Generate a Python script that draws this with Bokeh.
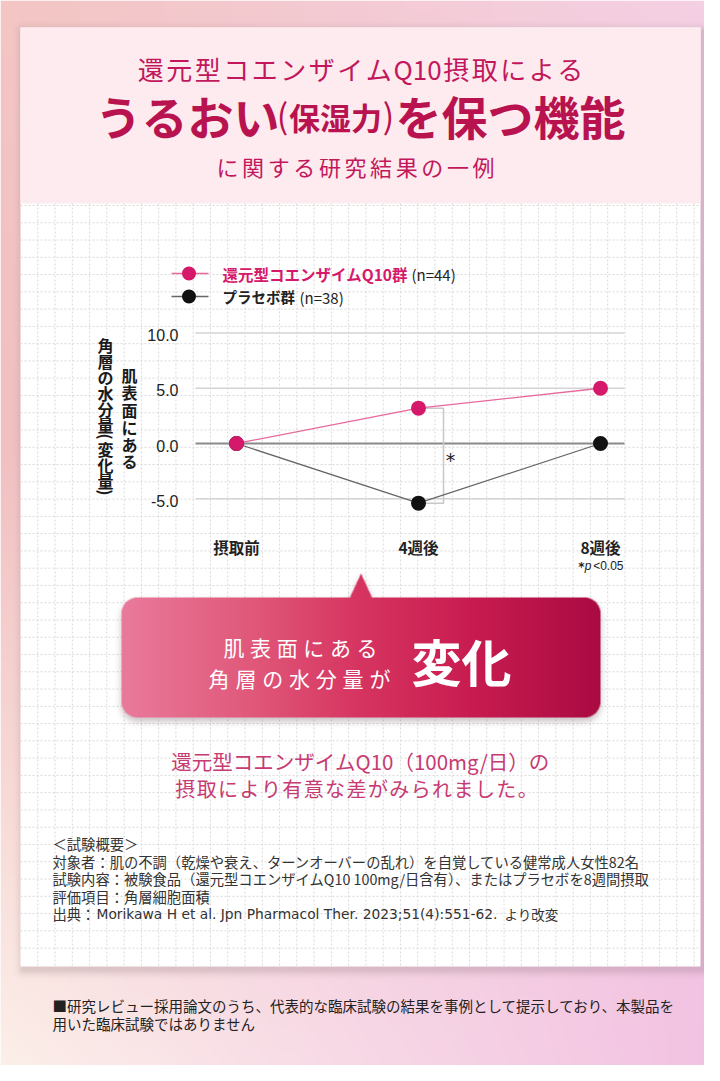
import numpy as np
from bokeh.plotting import figure
from bokeh.models import Range1d
from bokeh.core.properties import value
from bokeh.embed import file_html
from bokeh.resources import INLINE

# ---------------- data ----------------
categories = ["摂取前", "4週後", "8週後"]
q10_values = [0.0, 3.2, 5.0]
placebo_values = [0.0, -5.4, 0.0]
y_ticks = [10.0, 5.0, 0.0, -5.0]
y_tick_labels = ["10.0", "5.0", "0.0", "-5.0"]
series_names = ["還元型コエンザイムQ10群", "プラセボ群"]
series_n = ["(n=44)", "(n=38)"]

PINK = "#d6186a"
PINK_LINE = "#e8679c"
DARK = "#111111"
GRAY_LINE = "#666666"
FONT = "Noto Sans CJK JP"

# ---------------- page <-> data mapping ----------------
W, H = 704, 1065
X0, XS = 236.0, 182.0     # category 0 at page x=236, 182px per category
Y0, YS = 443.0, 11.05     # value 0 at page y=443, 11.05px per unit


def dx(X):
    return (X - X0) / XS


def dy(Y):
    return (Y0 - Y) / YS


p = figure(width=W, height=H, output_backend="svg", toolbar_location=None,
           x_range=Range1d(dx(0), dx(W)), y_range=Range1d(dy(H), dy(0)),
           x_axis_type=None, y_axis_type=None, min_border=0,
           outline_line_color=None)
p.background_fill_color = "white"
p.border_fill_color = "white"


def to_rgba(rgb, alpha=None):
    h, w = rgb.shape[:2]
    arr = np.empty((h, w, 4), dtype=np.uint8)
    arr[..., :3] = np.clip(np.round(rgb), 0, 255).astype(np.uint8)
    arr[..., 3] = 255 if alpha is None else np.clip(np.round(alpha * 255), 0, 255).astype(np.uint8)
    arr = np.ascontiguousarray(arr[::-1])
    return arr.view(dtype=np.uint32).reshape((h, w))


def lerp_stops(stops, t):
    pos = [s[0] for s in stops]
    return np.stack([np.interp(t, pos, [s[1][c] for s in stops]) for c in range(3)], axis=-1)


def box_blur(a, r, axis):
    k = 2 * r + 1
    pad = [(0, 0), (0, 0)]
    pad[axis] = (r + 1, r)
    c = np.cumsum(np.pad(a, pad, mode="edge"), axis=axis)
    if axis == 0:
        return (c[k:] - c[:-k]) / k
    return (c[:, k:] - c[:, :-k]) / k


# ---------------- page background (gradient + card shadow) ----------------
hb, wb = 533, 352
Xb = (np.arange(wb) + 0.5) * 2
Yb = (np.arange(hb) + 0.5) * 2
left_stops = [(0, (243, 197, 195)), (450, (241, 192, 193)), (800, (247, 218, 214)), (1081, (252, 240, 234))]
right_stops = [(0, (244, 208, 228)), (450, (240, 196, 226)), (1081, (242, 193, 226))]
L = lerp_stops(left_stops, Yb)
R = lerp_stops(right_stops, Yb)
t = (Xb / 720.0)[None, :, None]
rgb = L[:, None, :] * (1 - t) + R[:, None, :] * t
XX, YY = np.meshgrid(Xb, Yb)
ddx = np.maximum(np.maximum(22 - XX, XX - 703), 0)
ddy = np.maximum(np.maximum(30 - YY, YY - 970), 0)
dd = np.hypot(ddx, ddy)
a = 0.22 * np.clip(1 - dd / 11, 0, 1) ** 2
rgb = rgb * (1 - a[..., None]) + np.array([120, 95, 105]) * a[..., None]
p.image_rgba(image=[to_rgba(rgb)], x=dx(0), y=dy(hb * 2), dw=dx(wb * 2) - dx(0), dh=dy(0) - dy(hb * 2))

# ---------------- card ----------------
p.quad(left=dx(20), right=dx(700), top=dy(27), bottom=dy(966), fill_color="white", line_color=None)
p.quad(left=dx(20), right=dx(700), top=dy(27), bottom=dy(203), fill_color="#fdebf0", line_color=None)

# graph-paper dotted grid
step = 17.27
vx = [20 + step * k for k in range(1, 40)]
hy = [205 + step * k for k in range(0, 44)]
p.multi_line(xs=[[dx(v), dx(v)] for v in vx], ys=[[dy(203), dy(966)] for v in vx],
             line_color="#d9d9d9", line_width=1, line_dash="2 2")
p.multi_line(xs=[[dx(20), dx(700)] for v in hy], ys=[[dy(v), dy(v)] for v in hy],
             line_color="#d9d9d9", line_width=1, line_dash="2 2")


# ---------------- text helpers ----------------
def txt(X, Y, s, size, color="#222222", style="normal", align="center", font=FONT, baseline="middle"):
    p.text(x=[dx(X)], y=[dy(Y)], text=[s], text_font=value(font),
           text_font_size=value(f"{size}px"), text_font_style=style,
           text_color=color, text_align=align, text_baseline=baseline)


def spaced(Xc, Y, s, size, pitch, color, style="normal"):
    n = len(s)
    xs = [dx(Xc + (i - (n - 1) / 2) * pitch) for i in range(n)]
    p.text(x=xs, y=[dy(Y)] * n, text=list(s), text_font=value(FONT),
           text_font_size=value(f"{size}px"), text_font_style=style,
           text_color=color, text_align="center", text_baseline="middle")


def token_line(Xc, Y, toks, ems, size, gap, color, style="normal"):
    widths = [e * size for e in ems]
    total = sum(widths) + gap * (len(toks) - 1)
    x = Xc - total / 2
    xs = []
    for w in widths:
        xs.append(dx(x + w / 2))
        x += w + gap
    p.text(x=xs, y=[dy(Y)] * len(toks), text=toks, text_font=value(FONT),
           text_font_size=value(f"{size}px"), text_font_style=style,
           text_color=color, text_align="center", text_baseline="middle")


def vertical(X, Ytop, chars, pitches, size, color="#1a1a1a"):
    ys, y = [], Ytop
    for c, pt in zip(chars, pitches):
        ys.append(y + pt / 2)
        y += pt
    ang = [-np.pi / 2 if c in "()" else 0.0 for c in chars]
    p.text(x=[dx(X)] * len(chars), y=[dy(v) for v in ys], text=list(chars), angle=ang,
           text_font=value(FONT), text_font_size=value(f"{size}px"), text_font_style="bold",
           text_color=color, text_align="center", text_baseline="middle")


# ---------------- header ----------------
TITLE = "#c2185b"
head1 = list("還元型コエンザイム") + ["Q10"] + list("摂取による")
head1_em = [1.0] * 9 + [1.78] + [1.0] * 5
token_line(360, 68, head1, head1_em, 26, 2.5, TITLE)
txt(187, 114, "うるおい", 46, "#b8134f", "bold")
txt(282, 114, "(", 34, "#b8134f")
txt(335, 116, "保湿力", 31, "#b8134f", "bold")
txt(388, 114, ")", 34, "#b8134f")
txt(510, 114, "を保つ機能", 46, "#b8134f", "bold")
spaced(355, 165, "に関する研究結果の一例", 22, 25.6, TITLE)

# ---------------- legend ----------------
p.line(x=[dx(171), dx(208)], y=[dy(273)] * 2, line_color=PINK_LINE, line_width=1.5)
p.scatter(x=[dx(188.5)], y=[dy(273)], size=14, fill_color=PINK, line_color=None)
p.line(x=[dx(171), dx(208)], y=[dy(296)] * 2, line_color=GRAY_LINE, line_width=1.5)
p.scatter(x=[dx(188.5)], y=[dy(296)], size=14, fill_color=DARK, line_color=None)
txt(222, 273, series_names[0], 15.5, PINK, "bold", "left")
txt(411, 274, series_n[0], 15, "#222222", "normal", "left")
txt(222, 296, series_names[1], 14.5, "#222222", "bold", "left")
txt(299, 297, series_n[1], 15, "#222222", "normal", "left")

# ---------------- chart ----------------
gx0, gx1 = dx(195), dx(624)
p.segment(x0=[gx0] * len(y_ticks), x1=[gx1] * len(y_ticks), y0=y_ticks, y1=y_ticks,
          line_color=["#8a8a8a" if v == 0 else "#d4d4d4" for v in y_ticks],
          line_width=[2 if v == 0 else 1.5 for v in y_ticks])
p.text(x=[dx(178)] * len(y_ticks), y=y_ticks, text=y_tick_labels, text_font=value("Liberation Sans"),
       text_font_size=value("16px"), text_color="#222222", text_align="right",
       text_baseline="middle", y_offset=2)
xi = list(range(len(categories)))
p.text(x=xi, y=[dy(546)] * len(xi), text=categories, text_font=value(FONT),
       text_font_size=value("15.5px"), text_font_style="bold", text_color="#222222",
       text_align="center", text_baseline="middle")

# significance bracket
bx_in, bx_out = dx(425), dx(443)
p.line(x=[bx_in, bx_out, bx_out, bx_in], y=[q10_values[1], q10_values[1], placebo_values[1], placebo_values[1]],
       line_color="#c8c8c8", line_width=1.5)
p.text(x=[dx(450)], y=[(q10_values[1] + placebo_values[1]) / 2], text=["*"], text_font=value("DejaVu Sans"),
       text_font_size=value("19px"), text_color="#222222", text_align="center", text_baseline="middle", y_offset=4)

p.line(x=xi, y=placebo_values, line_color=GRAY_LINE, line_width=1.3)
p.line(x=xi, y=q10_values, line_color=PINK_LINE, line_width=1.3)
p.scatter(x=xi, y=placebo_values, size=15, fill_color=DARK, line_color=None)
p.scatter(x=xi, y=q10_values, size=15, fill_color=PINK, line_color=None)

# vertical y-axis title (right column read first)
vertical(129, 366, "肌表面にある", [17.2] * 6, 16)
vertical(105, 336, "角層の水分量(変化量)", [16] * 6 + [8] + [16] * 3 + [8], 16)

# p-value note
txt(623, 565, "<0.05", 12, "#222222", "normal", "right", font="Liberation Sans")
txt(591, 565, "p", 12, "#222222", "italic", "right", font="Liberation Sans")
txt(584, 566, "*", 12, "#222222", "bold", "right", font="DejaVu Sans")

# ---------------- callout ----------------
cx0, cx1, cy0, cy1 = 104, 618, 562, 742
cw, ch = cx1 - cx0, cy1 - cy0
ss = 2
xs_ = cx0 + (np.arange(cw * ss) + 0.5) / ss
ys_ = cy0 + (np.arange(ch * ss) + 0.5) / ss
CX, CY = np.meshgrid(xs_, ys_)
bx0, bx1, by0, by1, rr = 121, 600, 597, 717, 16
qx = np.maximum(np.maximum(bx0 + rr - CX, CX - (bx1 - rr)), 0)
qy = np.maximum(np.maximum(by0 + rr - CY, CY - (by1 - rr)), 0)
box = (qx ** 2 + qy ** 2 <= rr * rr) & (CX >= bx0) & (CX <= bx1) & (CY >= by0) & (CY <= by1)
tri = (CY >= 573) & (CY <= 600) & (np.abs(CX - 360.5) <= (CY - 573) / 25.0 * 11.5)
m = (box | tri).astype(float).reshape(ch, ss, cw, ss).mean(axis=(1, 3))
sh = np.zeros_like(m)
sh[4:] = m[:-4]
for _ in range(3):
    sh = box_blur(box_blur(sh, 3, 0), 3, 1)
sa = 0.33 * sh
colX = cx0 + np.arange(cw) + 0.5
grad_stops = [(121, (233, 122, 155)), (250, (224, 88, 122)), (360, (214, 52, 96)), (470, (200, 28, 80)), (600, (170, 10, 66))]
col = lerp_stops(grad_stops, colX)[None, :, :] * np.ones((ch, 1, 1))
A = m + sa * (1 - m)
shadow_rgb = np.array([90, 60, 75])
rgbc = (col * m[..., None] + shadow_rgb * (sa * (1 - m))[..., None]) / np.maximum(A, 1e-6)[..., None]
p.image_rgba(image=[to_rgba(rgbc, A)], x=dx(cx0), y=dy(cy1), dw=dx(cx1) - dx(cx0), dh=dy(cy0) - dy(cy1))

spaced(300, 646, "肌表面にある", 21, 26.6, "white")
spaced(299, 677, "角層の水分量が", 21, 26.8, "white")
txt(461, 659, "変化", 50, "white", "bold")

# ---------------- result text ----------------
RES = "#c73a72"
txt(360, 760, "還元型コエンザイムQ10（100mg/日）の", 20.5, RES)
spaced(356, 788, "摂取により有意な差がみられました。", 20, 21.4, RES)

# ---------------- study summary ----------------
summary = [
    "＜試験概要＞",
    "対象者：肌の不調（乾燥や衰え、ターンオーバーの乱れ）を自覚している健常成人女性82名",
    "試験内容：被験食品（還元型コエンザイムQ10 100mg/日含有）、またはプラセボを8週間摂取",
    "評価項目：角層細胞面積",
]
sum_y = [843, 861, 878, 896]
p.text(x=[dx(52)] * len(summary), y=[dy(v) for v in sum_y], text=summary, text_font=value(FONT),
       text_font_size=value("14.3px"), text_color="#333333", text_align="left", text_baseline="middle")
txt(52, 913, "出典：", 14.3, "#333333", "normal", "left")
txt(96, 913, "Morikawa H et al. Jpn Pharmacol Ther. 2023;51(4):551-62.", 13.8, "#333333", "normal", "left",
    font="DejaVu Sans")
txt(504, 913, "より改変", 13.5, "#333333", "normal", "left")

notes = [
    "■研究レビュー採用論文のうち、代表的な臨床試験の結果を事例として提示しており、本製品を",
    "用いた臨床試験ではありません",
]
p.text(x=[dx(52)] * 2, y=[dy(1005), dy(1023)], text=notes, text_font=value(FONT),
       text_font_size=value("14.5px"), text_color="#222222", text_align="left", text_baseline="middle")

open("out.html", "w").write(file_html(p, INLINE))
